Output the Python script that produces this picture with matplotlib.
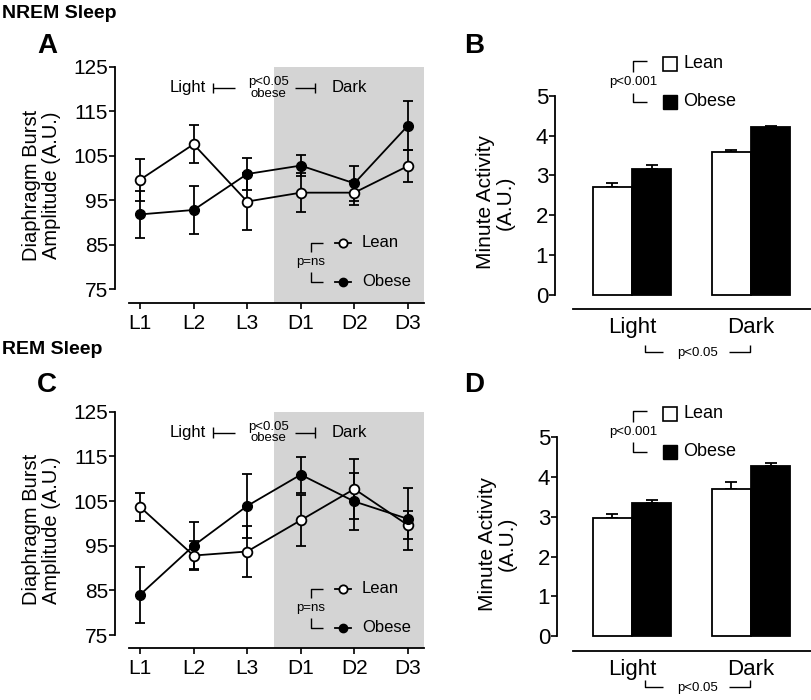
import matplotlib
matplotlib.use("Agg")
import matplotlib.pyplot as plt

plt.rcParams["font.family"] = ["Liberation Sans", "DejaVu Sans"]

# ---- data ----
timepoints = ["L1", "L2", "L3", "D1", "D2", "D3"]

nrem_lean = [99.6, 107.6, 94.7, 96.7, 96.7, 102.7]
nrem_lean_err = [4.7, 4.3, 6.4, 4.4, 2.7, 3.5]
nrem_obese = [91.8, 92.8, 100.9, 102.8, 98.8, 111.8]
nrem_obese_err = [5.3, 5.5, 3.7, 2.3, 3.9, 5.6]

rem_lean = [103.7, 92.8, 93.7, 100.7, 107.7, 99.6]
rem_lean_err = [3.2, 3.2, 5.7, 5.7, 6.7, 3.1]
rem_obese = [84.0, 95.0, 103.9, 110.9, 104.9, 101.0]
rem_obese_err = [6.3, 5.2, 7.1, 4.0, 6.4, 6.9]

phases = ["Light", "Dark"]
nrem_act_lean = [2.70, 3.58]
nrem_act_lean_err = [0.10, 0.05]
nrem_act_obese = [3.16, 4.21]
nrem_act_obese_err = [0.09, 0.03]

rem_act_lean = [2.98, 3.69]
rem_act_lean_err = [0.10, 0.18]
rem_act_obese = [3.35, 4.28]
rem_act_obese_err = [0.07, 0.07]

W, H = 812, 700


def px_box(left, top, right, bottom):
    return [left / W, 1 - bottom / H, (right - left) / W, (bottom - top) / H]


def seg(ax, xs, ys):
    ax.plot(xs, ys, color="black", lw=1.0, clip_on=False, solid_capstyle="butt")


def line_panel(ax, lean, lean_err, obese, obese_err, ymin):
    x = list(range(len(timepoints)))
    ax.axvspan(2.5, 5.3, color="#d4d4d4", lw=0, zorder=0)
    ax.errorbar(x, lean, yerr=lean_err, color="black", lw=1.3, capsize=3.4,
                capthick=1.3, elinewidth=1.3, marker="o", ms=7,
                mfc="white", mec="black", mew=1.3, zorder=3)
    ax.errorbar(x, obese, yerr=obese_err, color="black", lw=1.3, capsize=3.4,
                capthick=1.3, elinewidth=1.3, marker="o", ms=7,
                mfc="black", mec="black", zorder=3)
    ax.set_xlim(-0.466, 5.3)
    ax.set_ylim(ymin, 125)
    ax.set_xticks(x)
    ax.set_xticklabels(timepoints, fontsize=15)
    ax.set_yticks([75, 85, 95, 105, 115, 125])
    ax.tick_params(axis="y", labelsize=15, length=4, width=1.2, pad=1)
    ax.tick_params(axis="x", length=4, width=1.2, pad=4)
    for s in ["top", "right"]:
        ax.spines[s].set_visible(False)
    ax.spines["left"].set_bounds(75, 125)
    ax.spines["bottom"].set_bounds(-0.2, 5.3)
    ax.spines["left"].set_linewidth(1.3)
    ax.spines["bottom"].set_linewidth(1.3)
    ax.set_ylabel("Diaphragm Burst\nAmplitude (A.U.)", fontsize=14.5,
                  labelpad=9, linespacing=1.05)

    # light / dark comparison
    yc = 120.3
    ax.text(0.9, yc, "Light", ha="center", va="center", fontsize=12)
    seg(ax, [1.36, 1.77], [yc, yc])
    seg(ax, [1.36, 1.36], [yc - 1.2, yc + 1.2])
    ax.text(2.39, yc, "p<0.05\nobese", ha="center", va="center", fontsize=9.5,
            linespacing=0.95)
    seg(ax, [2.89, 3.26], [yc, yc])
    seg(ax, [3.26, 3.26], [yc - 1.2, yc + 1.2])
    ax.text(3.9, yc, "Dark", ha="center", va="center", fontsize=12)

    # legend with bracket
    ytop, ybot = 85.4, 76.6
    seg(ax, [3.19, 3.19, 3.41], [ytop - 2.1, ytop, ytop])
    seg(ax, [3.19, 3.19, 3.41], [ybot + 2.3, ybot, ybot])
    ax.text(3.19, (ytop + ybot) / 2, "p=ns", ha="center", va="center", fontsize=9.5)
    ax.plot([3.64, 3.94], [ytop, ytop], color="black", lw=1.3, clip_on=False)
    ax.plot([3.79], [ytop], marker="o", ms=6, mfc="white", mec="black", mew=1.3)
    ax.plot([3.64, 3.94], [ybot, ybot], color="black", lw=1.3)
    ax.plot([3.79], [ybot], marker="o", ms=6, mfc="black", mec="black")
    ax.text(4.14, ytop, "Lean", ha="left", va="center", fontsize=12)
    ax.text(4.14, ybot, "Obese", ha="left", va="center", fontsize=12)


def bar_panel(ax, lean, lean_err, obese, obese_err, xlo, ylo, leg_y, sig_y):
    x = [0, 1]
    w = 0.33
    xl = [v - w / 2 for v in x]
    xo = [v + w / 2 for v in x]
    ax.bar(xl, lean, width=w, color="white", edgecolor="black", lw=1.3, zorder=2)
    ax.bar(xo, obese, width=w, color="black", edgecolor="black", lw=1.3, zorder=2)
    ax.errorbar(xl, lean, yerr=[[0, 0], lean_err], fmt="none", ecolor="black",
                elinewidth=1.3, capsize=4, capthick=1.3, zorder=1)
    ax.errorbar(xo, obese, yerr=[[0, 0], obese_err], fmt="none", ecolor="black",
                elinewidth=1.3, capsize=4, capthick=1.3, zorder=1)
    ax.set_xlim(xlo, 1.513)
    ax.set_ylim(ylo, 5)
    ax.set_xticks(x)
    ax.set_xticklabels(phases, fontsize=16)
    ax.set_yticks([0, 1, 2, 3, 4, 5])
    ax.tick_params(axis="y", labelsize=16, length=4, width=1.2, pad=1)
    ax.tick_params(axis="x", length=0, pad=6)
    for s in ["top", "right"]:
        ax.spines[s].set_visible(False)
    ax.spines["left"].set_bounds(0, 5)
    ax.spines["bottom"].set_bounds(-0.496, 1.513)
    ax.spines["left"].set_linewidth(1.3)
    ax.spines["bottom"].set_linewidth(1.3)
    ax.set_ylabel("Minute Activity\n(A.U.)", fontsize=15, labelpad=15,
                  linespacing=1.05)

    # legend with bracket
    ly, oy = leg_y, leg_y - 0.95
    seg(ax, [0.13, 0.01, 0.01], [ly + 0.07, ly + 0.07, ly - 0.2])
    seg(ax, [0.13, 0.01, 0.01], [oy, oy, oy + 0.23])
    ax.text(0.01, (ly + oy) / 2 + 0.03, "p<0.001", ha="center", va="center",
            fontsize=9.5)
    ax.plot([0.32], [ly], marker="s", ms=10, mfc="white", mec="black",
            mew=1.2, clip_on=False)
    ax.plot([0.32], [oy], marker="s", ms=10, mfc="black", mec="black",
            clip_on=False)
    ax.text(0.43, ly, "Lean", ha="left", va="center", fontsize=13)
    ax.text(0.43, oy, "Obese", ha="left", va="center", fontsize=13)

    # light vs dark significance
    seg(ax, [0.11, 0.11, 0.26], [sig_y + 0.17, sig_y, sig_y])
    seg(ax, [0.815, 0.99, 0.99], [sig_y, sig_y, sig_y + 0.17])
    ax.text(0.555, sig_y - 0.03, "p<0.05", ha="center", va="center", fontsize=9.5)


fig = plt.figure(figsize=(W / 100, H / 100), dpi=100)

axA = fig.add_axes(px_box(115, 67, 424, 303))
line_panel(axA, nrem_lean, nrem_lean_err, nrem_obese, nrem_obese_err, 71.85)

axC = fig.add_axes(px_box(115, 411.7, 424, 648))
line_panel(axC, rem_lean, rem_lean_err, rem_obese, rem_obese_err, 72.1)

axB = fig.add_axes(px_box(555, 95.7, 812, 309))
bar_panel(axB, nrem_act_lean, nrem_act_lean_err, nrem_act_obese,
          nrem_act_obese_err, -0.647, -0.35, 5.8, -1.42)

axD = fig.add_axes(px_box(557, 437.3, 812, 650.7))
bar_panel(axD, rem_act_lean, rem_act_lean_err, rem_act_obese,
          rem_act_obese_err, -0.63, -0.37, 5.59, -1.28)

# titles and panel letters
fig.text(2 / W, 1 - 13 / H, "NREM Sleep", fontsize=14, fontweight="bold",
         ha="left", va="center")
fig.text(2 / W, 1 - 350 / H, "REM Sleep", fontsize=14, fontweight="bold",
         ha="left", va="center")
for lab, xp, yp in [("A", 47, 46), ("B", 474, 46), ("C", 47, 385), ("D", 474, 385)]:
    fig.text(xp / W, 1 - yp / H, lab, fontsize=20, fontweight="bold",
             ha="center", va="center")

fig.savefig("out.png", dpi=100)
